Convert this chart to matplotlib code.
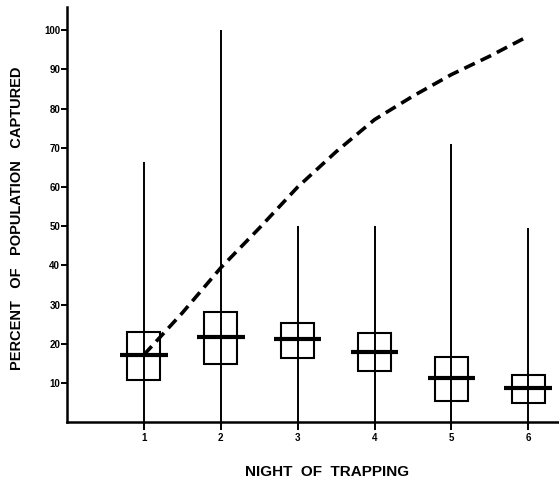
import matplotlib.pyplot as plt

# values
nights = [1, 2, 3, 4, 5, 6]
q_low = [10.7, 14.8, 16.4, 13.0, 5.4, 4.8]
q_high = [23.1, 28.0, 25.2, 22.7, 16.7, 12.0]
medians = [17.2, 21.6, 21.2, 18.0, 11.2, 8.8]
range_low = [0, 0, 0, 0, 0, 0]
range_high = [66.5, 100, 50, 50, 71, 49.5]

# cumulative percent captured (dashed curve)
cum_x = [1, 1.5, 2, 2.5, 3, 3.5, 4, 4.5, 5, 5.5, 6]
cum_y = [17.2, 27.9, 39.4, 49.5, 60, 69, 77.2, 83.2, 88.7, 93.4, 98.5]

plt.rcParams['font.family'] = ['Liberation Sans', 'DejaVu Sans']

fig = plt.figure(figsize=(5.59, 4.83), dpi=100)
ax = fig.add_axes([0.12, 0.126, 0.88, 0.86])

# ranges
ax.vlines(nights, range_low, range_high, color='black', lw=1.4)
# boxes
ax.bar(nights, [h - l for h, l in zip(q_high, q_low)], bottom=q_low, width=0.43,
       fill=False, edgecolor='black', lw=1.5)
# medians
ax.hlines(medians, [n - 0.31 for n in nights], [n + 0.31 for n in nights],
          color='black', lw=3)

ax.plot(cum_x, cum_y, color='black', lw=2.6, linestyle=(0, (3.2, 1.8)))

ax.set_xlim(0, 6.4)
ax.set_ylim(0, 106)
ax.set_xticks(nights)
ax.set_yticks(range(10, 101, 10))
ax.tick_params(axis='x', length=6, width=1.4, direction='out', pad=2, labelsize=7)
ax.tick_params(axis='y', length=4, width=1.4, direction='out', pad=1, labelsize=7)
for lab in ax.get_xticklabels() + ax.get_yticklabels():
    lab.set_fontweight('bold')

ax.spines['top'].set_visible(False)
ax.spines['right'].set_visible(False)
ax.spines['left'].set_linewidth(1.8)
ax.spines['bottom'].set_linewidth(1.8)

ax.set_xlabel('NIGHT  OF  TRAPPING', fontsize=11, fontweight='bold')
ax.set_ylabel('PERCENT   OF   POPULATION   CAPTURED', fontsize=10.5, fontweight='bold')
ax.xaxis.set_label_coords(0.528, -0.104)
ax.yaxis.set_label_coords(-0.088, 0.49)

fig.savefig('out.png', dpi=100)
